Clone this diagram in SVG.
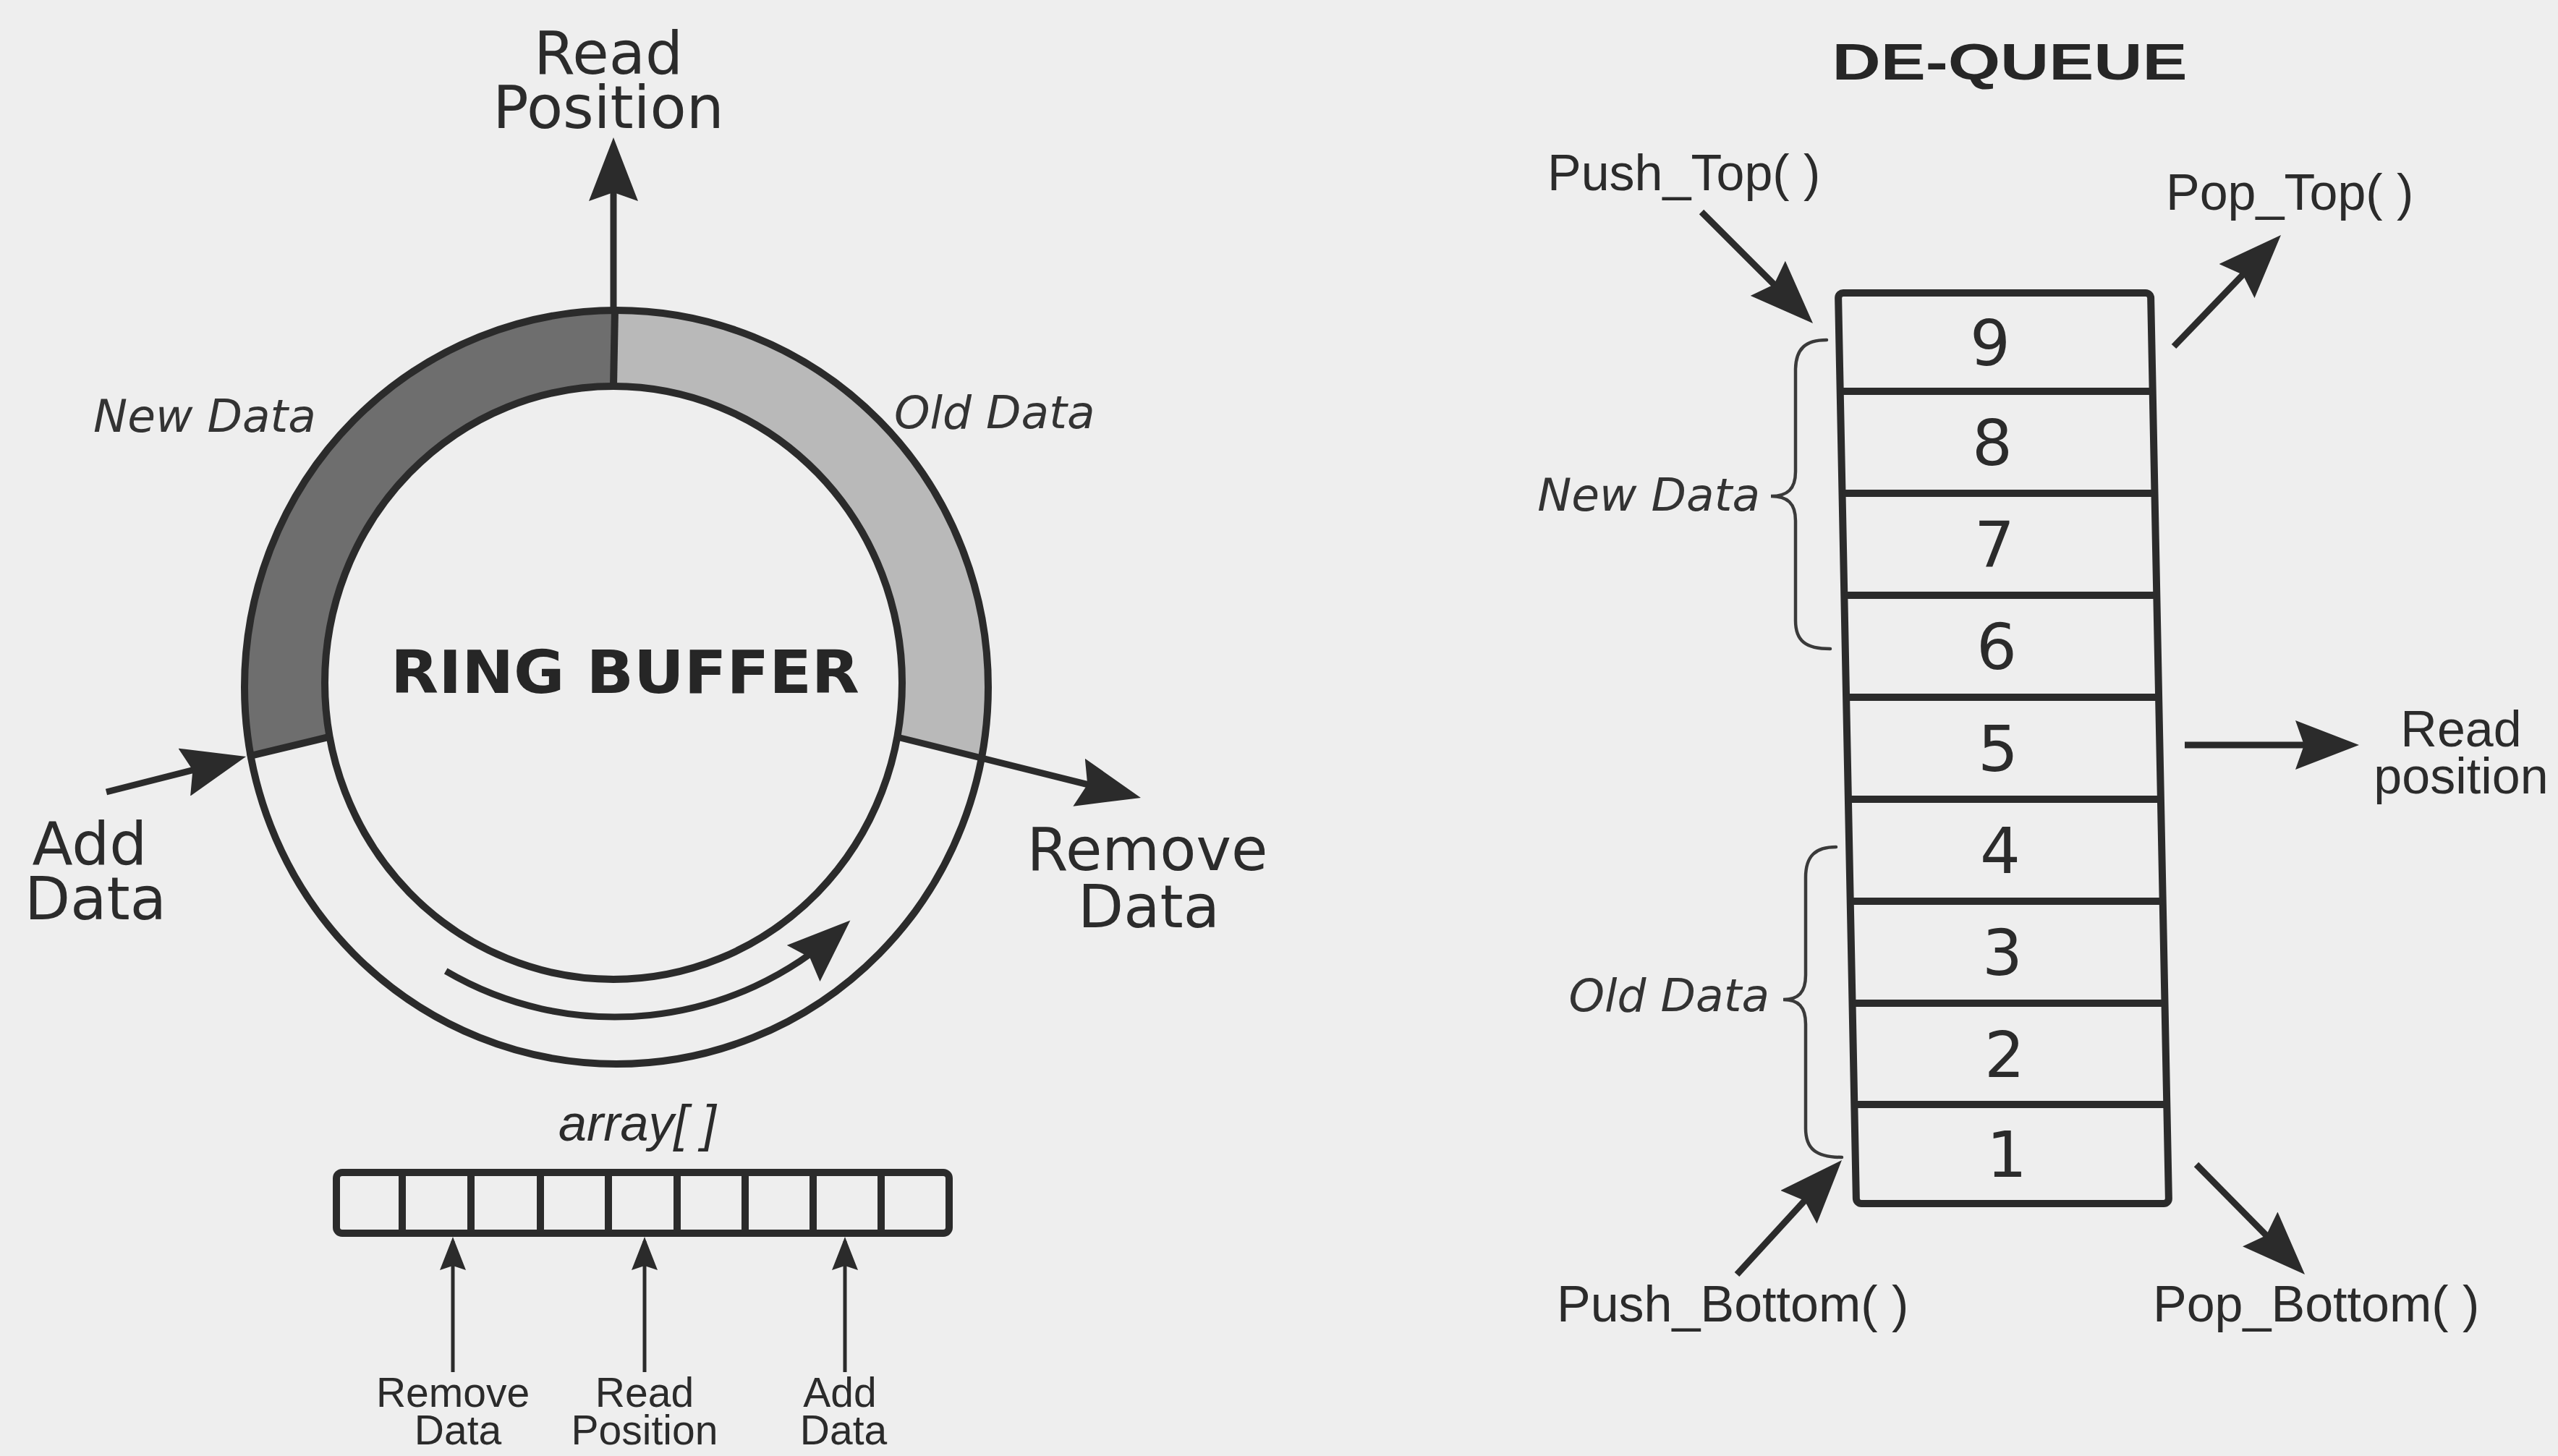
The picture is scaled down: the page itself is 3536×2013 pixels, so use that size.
<svg xmlns="http://www.w3.org/2000/svg" width="3536" height="2013" viewBox="0 0 3536 2013">
<style>
.bg{fill:#eeeeee}
.ln{stroke:#2b2b2b;stroke-width:10;fill:none}
.brace{stroke:#3a3a3a;stroke-width:4.5;fill:none;stroke-linecap:round}
.arr{stroke:#2b2b2b;stroke-width:9;fill:none}
.arrs{stroke:#2b2b2b;stroke-width:5;fill:none}
.lbl{font-family:'DejaVu Sans',Verdana,sans-serif;font-size:82px;fill:#2b2b2b;text-anchor:middle}
.it{font-family:'DejaVu Sans',Verdana,sans-serif;font-style:italic;font-size:63px;fill:#333333}
.ar{font-family:'Liberation Sans',Arial,sans-serif;font-size:70px;fill:#2b2b2b}
.sm{font-family:'Liberation Sans',Arial,sans-serif;font-size:57px;fill:#2b2b2b;text-anchor:middle}
.num{font-family:'DejaVu Sans',Verdana,sans-serif;font-size:88px;fill:#2b2b2b;text-anchor:middle}
.title{font-weight:bold;fill:#262626}
</style>
<defs>
<marker id="ah" markerUnits="userSpaceOnUse" markerWidth="90" markerHeight="68" viewBox="0 0 90 68" refX="70" refY="34" orient="auto">
<path d="M0,0 L88,34 L0,68 L12,34 Z" fill="#2b2b2b"/>
</marker>
<marker id="ahs" markerUnits="userSpaceOnUse" markerWidth="48" markerHeight="36" viewBox="0 0 48 36" refX="40" refY="18" orient="auto">
<path d="M0,0 L46,18 L0,36 L6,18 Z" fill="#2b2b2b"/>
</marker>
</defs>
<rect class="bg" x="0" y="0" width="3536" height="2013"/>

<!-- RING BUFFER -->
<g id="ring-buffer">
<path d="M852,429 A514,521 0 0 0 346.6,1044.9 L455.7,1018.7 A399,410 0 0 1 848,534 Z" fill="#6e6e6e"/>
<path d="M852,429 A514,521 0 0 1 1357.4,1044.9 L1240.3,1018.7 A399,410 0 0 0 848,534 Z" fill="#b9b9b9"/>
<ellipse class="ln" cx="852" cy="950" rx="514" ry="521"/>
<ellipse class="ln" cx="848" cy="944" rx="399" ry="410"/>
<line class="ln" x1="850" y1="429" x2="848" y2="534"/>
<line class="ln" x1="455.7" y1="1018.7" x2="342" y2="1046"/>
<text class="lbl title" x="864" y="958" font-size="80" textLength="648" lengthAdjust="spacingAndGlyphs">RING BUFFER</text>
</g>

<g id="ring-labels">
<text class="lbl"><tspan x="841" y="102">Read</tspan><tspan x="841" y="177">Position</tspan></text>
<text class="it" x="129" y="597">New Data</text>
<text class="it" x="1236" y="592">Old Data</text>
<text class="lbl"><tspan x="124" y="1195">Add</tspan><tspan x="132" y="1271">Data</tspan></text>
<text class="lbl"><tspan x="1586" y="1203">Remove</tspan><tspan x="1588" y="1282">Data</tspan></text>
</g>

<!-- ARRAY -->
<g id="array">
<text class="ar" x="772" y="1577" font-style="italic">array[ ]</text>
<rect class="ln" x="465" y="1621" width="847" height="84" rx="8"/>
<line class="ln" x1="556" y1="1621" x2="556" y2="1705"/>
<line class="ln" x1="651" y1="1621" x2="651" y2="1705"/>
<line class="ln" x1="747" y1="1621" x2="747" y2="1705"/>
<line class="ln" x1="841" y1="1621" x2="841" y2="1705"/>
<line class="ln" x1="936" y1="1621" x2="936" y2="1705"/>
<line class="ln" x1="1030" y1="1621" x2="1030" y2="1705"/>
<line class="ln" x1="1124" y1="1621" x2="1124" y2="1705"/>
<line class="ln" x1="1218" y1="1621" x2="1218" y2="1705"/>
</g>
<g id="array-labels">
<text class="sm"><tspan x="626" y="1945">Remove</tspan><tspan x="633" y="1997">Data</tspan></text>
<text class="sm"><tspan x="891" y="1945">Read</tspan><tspan x="891" y="1997">Position</tspan></text>
<text class="sm"><tspan x="1161" y="1945">Add</tspan><tspan x="1166" y="1997">Data</tspan></text>
</g>

<!-- DE-QUEUE -->
<text class="ar title" x="2778" y="110" font-size="88" text-anchor="middle" textLength="491" lengthAdjust="spacingAndGlyphs">DE-QUEUE</text>
<g id="dequeue" transform="matrix(1 0 0.01986 1 -8.04 0)">
<rect class="ln" x="2541" y="405" width="432" height="1259" rx="7"/>
</g>
<g id="cell-9"><line class="ln" x1="2541" y1="541" x2="2973" y2="541" transform="matrix(1 0 0.01986 1 -8.04 0)"/><text class="num" x="2751" y="505">9</text></g>
<g id="cell-8"><line class="ln" x1="2541" y1="682" x2="2973" y2="682" transform="matrix(1 0 0.01986 1 -8.04 0)"/><text class="num" x="2754" y="643">8</text></g>
<g id="cell-7"><line class="ln" x1="2541" y1="823" x2="2973" y2="823" transform="matrix(1 0 0.01986 1 -8.04 0)"/><text class="num" x="2757" y="784">7</text></g>
<g id="cell-6"><line class="ln" x1="2541" y1="964" x2="2973" y2="964" transform="matrix(1 0 0.01986 1 -8.04 0)"/><text class="num" x="2760" y="925">6</text></g>
<g id="cell-5"><line class="ln" x1="2541" y1="1105" x2="2973" y2="1105" transform="matrix(1 0 0.01986 1 -8.04 0)"/><text class="num" x="2762" y="1066">5</text></g>
<g id="cell-4"><line class="ln" x1="2541" y1="1246" x2="2973" y2="1246" transform="matrix(1 0 0.01986 1 -8.04 0)"/><text class="num" x="2765" y="1207">4</text></g>
<g id="cell-3"><line class="ln" x1="2541" y1="1387" x2="2973" y2="1387" transform="matrix(1 0 0.01986 1 -8.04 0)"/><text class="num" x="2768" y="1348">3</text></g>
<g id="cell-2"><line class="ln" x1="2541" y1="1527" x2="2973" y2="1527" transform="matrix(1 0 0.01986 1 -8.04 0)"/><text class="num" x="2771" y="1489">2</text></g>
<g id="cell-1"><text class="num" x="2774" y="1627">1</text></g>

<g id="dequeue-labels">
<text class="ar" x="2139" y="263">Push_Top( )</text>
<text class="ar" x="2994" y="290">Pop_Top( )</text>
<text class="ar" text-anchor="middle"><tspan x="3402" y="1032">Read</tspan><tspan x="3402" y="1097">position</tspan></text>
<text class="ar" x="2152" y="1827" font-size="72">Push_Bottom( )</text>
<text class="ar" x="2976" y="1827" font-size="72">Pop_Bottom( )</text>
<text class="it" x="2433" y="706" text-anchor="end">New Data</text>
<text class="it" x="2446" y="1398" text-anchor="end">Old Data</text>
<path class="brace" d="M2525,470 C2496,470 2482,482 2482,512 L2482,652 C2482,676 2471,686 2448,686 C2471,686 2482,696 2482,720 L2482,858 C2482,886 2496,897 2530,897"/>
<path class="brace" d="M2538,1171 C2510,1171 2496,1183 2496,1213 L2496,1348 C2496,1372 2486,1382 2465,1382 C2486,1382 2496,1392 2496,1416 L2496,1560 C2496,1588 2510,1600 2546,1600"/>
</g>

<!-- CONNECTORS -->
<g id="connectors">
<line class="arr" x1="848" y1="428" x2="848" y2="208" marker-end="url(#ah)"/>
<line class="arr" x1="147" y1="1095" x2="322.6" y2="1050.4" marker-end="url(#ah)"/>
<line class="arr" x1="1240" y1="1019" x2="1559.5" y2="1098.6" marker-end="url(#ah)"/>
<path class="arr" d="M616.2,1342.5 A462,462 0 0 0 1162.1,1284.6" marker-end="url(#ah)"/>
<line class="arrs" x1="626" y1="1897" x2="626" y2="1716" marker-end="url(#ahs)"/>
<line class="arrs" x1="891" y1="1897" x2="891" y2="1716" marker-end="url(#ahs)"/>
<line class="arrs" x1="1168" y1="1897" x2="1168" y2="1716" marker-end="url(#ahs)"/>
<line class="arr" x1="2352" y1="293" x2="2493.3" y2="434.3" marker-end="url(#ah)"/>
<line class="arr" x1="3005" y1="479" x2="3140.5" y2="338" marker-end="url(#ah)"/>
<line class="arr" x1="3020" y1="1030" x2="3243" y2="1030" marker-end="url(#ah)"/>
<line class="arr" x1="2401" y1="1762" x2="2533.8" y2="1617.3" marker-end="url(#ah)"/>
<line class="arr" x1="3036" y1="1610" x2="3173.4" y2="1749.2" marker-end="url(#ah)"/>
</g>
</svg>
